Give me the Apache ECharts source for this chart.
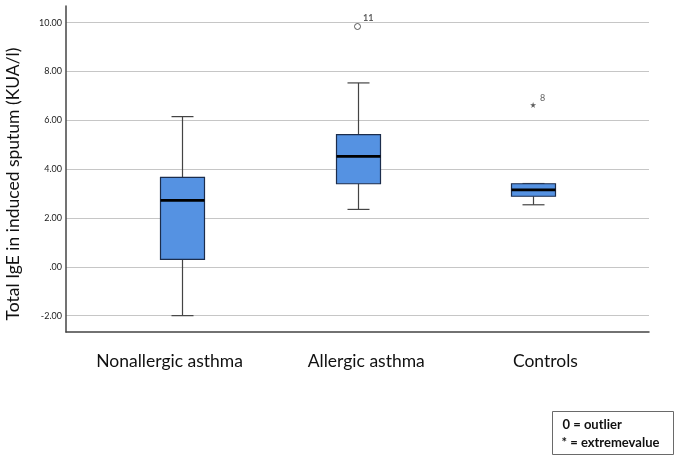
<!DOCTYPE html>
<html>
<head>
<meta charset="utf-8">
<script src="https://cdn.jsdelivr.net/npm/echarts@6/dist/echarts.min.js"></script>
<style>
	html, body { margin: 0; padding: 0; background: #fff; }
	#chart { width: 680px; height: 459px; }
</style>
</head>
<body>
<div id="chart"></div>
<script>
// groups
var categories = ["Nonallergic asthma", "Allergic asthma", "Controls"];
// box plot values (KUA/l)
var lowWhisker = [-2.0, 2.35, 2.54];
var q1 = [0.30, 3.40, 2.89];
var medians = [2.72, 4.52, 3.15];
var q3 = [3.66, 5.41, 3.40];
var highWhisker = [6.15, 7.53, 3.41];
// outliers: [group index, value, case number]
var outliers = [[1, 9.84, "11"]];
var extremes = [[2, 6.63, "8"]];
// y axis ticks
var yTicks = [-2, 0, 2, 4, 6, 8, 10];

var boxData = categories.map(function (c, i) {
	return [i + 1, lowWhisker[i], q1[i], medians[i], q3[i], highWhisker[i]];
});
var outlierData = outliers.map(function (o) {
	return { value: [o[0] + 1, o[1]], name: o[2] };
});
var extremeData = extremes.map(function (o) {
	return { value: [o[0] + 1, o[1]], name: o[2] };
});

function renderBox(params, api) {
	var x = api.value(0);
	var pt = function (v) { return api.coord([x, v]); };
	var lo = pt(api.value(1)), b1 = pt(api.value(2)), md = pt(api.value(3)),
		b3 = pt(api.value(4)), hi = pt(api.value(5));
	var cx = Math.round(lo[0]) + 0.5;
	var bw = 44, cap = 22;
	var whisker = { stroke: "#444", lineWidth: 1.2 };
	return {
		type: "group",
		children: [
			{ type: "line", shape: { x1: cx, y1: lo[1], x2: cx, y2: b1[1] }, style: whisker },
			{ type: "line", shape: { x1: cx, y1: b3[1], x2: cx, y2: hi[1] }, style: whisker },
			{ type: "line", shape: { x1: cx - cap / 2, y1: lo[1], x2: cx + cap / 2, y2: lo[1] }, style: whisker },
			{ type: "line", shape: { x1: cx - cap / 2, y1: hi[1], x2: cx + cap / 2, y2: hi[1] }, style: whisker },
			{
				type: "rect",
				shape: { x: cx - bw / 2, y: b3[1], width: bw, height: b1[1] - b3[1] },
				style: { fill: "#5592e2", stroke: "#1c2d4c", lineWidth: 1.2 }
			},
			{ type: "line", shape: { x1: cx - bw / 2, y1: md[1], x2: cx + bw / 2, y2: md[1] }, style: { stroke: "#000", lineWidth: 2.6 } }
		]
	};
}

var myChart = echarts.init(document.getElementById("chart"), null, { renderer: "canvas" });
var option = {
	animation: false,
	textStyle: { fontFamily: "Lato" },
	grid: { left: 66, right: 31, top: 6, bottom: 127 },
	xAxis: {
		type: "value",
		min: 0.34,
		max: 3.66,
		axisLine: { show: true, onZero: false, lineStyle: { color: "#444", width: 1.5 } },
		axisTick: { show: false },
		splitLine: { show: false },
		axisLabel: {
			// label centres are a bit off the box centres in the original
			customValues: [0.93, 2.05, 3.07],
			formatter: function (v) { return categories[Math.round(v) - 1]; },
			margin: 20,
			fontSize: 17.5,
			color: "#111"
		}
	},
	yAxis: {
		type: "value",
		min: -2.67,
		max: 10.68,
		axisLine: { show: true, lineStyle: { color: "#444", width: 1.5 } },
		axisTick: { show: false, customValues: yTicks },
		splitLine: { show: true, lineStyle: { color: "#c6c6c6", width: 1.2 } },
		axisLabel: {
			customValues: yTicks,
			margin: 4,
			fontSize: 9,
			color: "#222",
			formatter: function (v) {
				return v === 0 ? ".00" : v.toFixed(2);
			}
		}
	},
	series: [
		{
			type: "custom",
			renderItem: renderBox,
			data: boxData,
			z: 3
		},
		{
			type: "scatter",
			data: outlierData,
			symbol: "circle",
			symbolSize: 6,
			itemStyle: { color: "#fff", borderColor: "#333", borderWidth: 1 },
			label: {
				show: true,
				position: "right",
				offset: [-3, -8],
				formatter: "{b}",
				fontSize: 9,
				fontWeight: "bold",
				color: "#333"
			},
			z: 4
		},
		{
			type: "scatter",
			data: extremeData,
			symbol: "path://M50,0 L61,35 L98,35 L68,57 L79,91 L50,70 L21,91 L32,57 L2,35 L39,35 Z",
			symbolSize: 6,
			itemStyle: { color: "#333" },
			label: {
				show: true,
				position: "right",
				offset: [-1, -7],
				formatter: "{b}",
				fontSize: 9,
				color: "#333"
			},
			z: 4
		}
	],
	graphic: [
		{
			// y axis title
			type: "text",
			x: 13,
			y: 184,
			rotation: Math.PI / 2,
			style: {
				text: "Total IgE in induced sputum (KUA/l)",
				font: "17.5px Lato",
				fill: "#111",
				align: "center",
				verticalAlign: "middle"
			}
		},
		{
			type: "group",
			left: 552,
			top: 411,
			children: [
				{
					type: "rect",
					shape: { x: 0, y: 0, width: 121, height: 43 },
					style: { fill: "#fff", stroke: "#6a6a6a", lineWidth: 1 }
				},
				{
					type: "text",
					x: 10,
					y: 13,
					style: { text: "0 = outlier", font: "bold 13px Lato", fill: "#111", verticalAlign: "middle" }
				},
				{
					type: "text",
					x: 9,
					y: 31,
					style: { text: "* = extremevalue", font: "bold 13px Lato", fill: "#111", verticalAlign: "middle" }
				}
			]
		}
	]
};
myChart.setOption(option);
window.addEventListener("resize", myChart.resize);
</script>
</body>
</html>
